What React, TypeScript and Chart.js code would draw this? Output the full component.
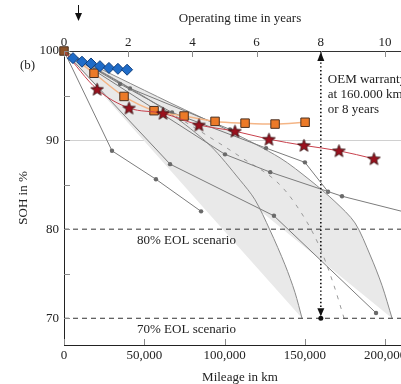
import React, { useEffect, useRef } from 'react';
import { Chart, registerables } from 'chart.js';

Chart.register(...registerables);

// ---------- data ----------
const KM_PER_YEAR = 20000;
const X_MAX = 219300;
const Y_MIN = 67;
const Y_MAX = 100;

const xTickValues = [0, 50000, 100000, 150000, 200000];
const yearTickValues = [0, 2, 4, 6, 8, 10];
const sohTickValues = [70, 75, 80, 85, 90, 95, 100];

const diamondKm = [5600, 11200, 16800, 22400, 28000, 33600, 39300];
const diamondSoh = [99.2, 98.8, 98.6, 98.3, 98.1, 98.0, 97.9];

const squareKm = [0, 18700, 37400, 56100, 74800, 94100, 112800, 131500, 150200];
const squareSoh = [100, 97.5, 94.9, 93.3, 92.7, 92.1, 91.9, 91.8, 92.0];

const starKm = [0, 20600, 40500, 61700, 84100, 106500, 127700, 149500, 171300, 193100];
const starSoh = [100, 95.7, 93.6, 93.0, 91.7, 91.0, 90.1, 89.4, 88.8, 87.9];

const gray1Km = [0, 29900, 57300, 85400];
const gray1Soh = [100, 88.8, 85.6, 82.0];
const gray2Km = [0, 66100, 130800, 194400];
const gray2Soh = [100, 87.3, 81.5, 70.6];
const gray3Km = [0, 100300, 128500, 173200, 215000];
const gray3Soh = [100, 88.4, 86.4, 83.7, 81.8];
const gray4Km = [0, 34900, 67300, 125900, 150100, 164500];
const gray4Soh = [100, 96.3, 93.1, 89.1, 87.5, 84.2];
const gray5Km = [0, 41100, 103400];
const gray5Soh = [100, 95.8, 91.2];

const bandUpperKm = [0, 66000, 103400, 134600, 153300, 168800, 181300, 190700, 198100, 204400];
const bandUpperSoh = [100, 94.2, 91.0, 88.0, 85.5, 83.1, 80.7, 77.1, 73.7, 70.0];
const bandLowerKm = [0, 34900, 66000, 91000, 109700, 119000, 128300, 137700, 143900, 148300];
const bandLowerSoh = [100, 96.5, 93.0, 89.4, 85.5, 83.3, 79.9, 76.0, 72.9, 70.0];

const trendKm = [0, 47400, 86600, 110900, 132700, 143900, 158300, 167600, 174500];
const trendSoh = [100, 95.1, 90.8, 88.0, 85.3, 82.9, 78.4, 74.0, 70.0];

const eolLevels = [80, 70];
const eolLabels = ['80% EOL scenario', '70% EOL scenario'];
const eolLabelKm = 45500;
const warrantyKm = 160000;
const markerArrowKm = 8700;
const warrantyText = ['OEM warranty', 'at 160.000 km', 'or 8 years'];

// ---------- helpers ----------
const pts = (xs: number[], ys: number[]) => xs.map((x, i) => ({ x, y: ys[i] }));
const setTicks = (vals: number[]) => (s: any) => {
  s.ticks = vals.map((v) => ({ value: v }));
};

function makeStar(): HTMLCanvasElement {
  const c = document.createElement('canvas');
  c.width = 15;
  c.height = 15;
  const g = c.getContext('2d')!;
  const cx = 7.5, cy = 8, R = 6.6, r = 2.8;
  g.beginPath();
  for (let i = 0; i < 10; i++) {
    const a = -Math.PI / 2 + (i * Math.PI) / 5;
    const rad = i % 2 === 0 ? R : r;
    const px = cx + rad * Math.cos(a);
    const py = cy + rad * Math.sin(a);
    if (i === 0) g.moveTo(px, py); else g.lineTo(px, py);
  }
  g.closePath();
  g.fillStyle = '#9b111e';
  g.fill();
  g.lineWidth = 0.8;
  g.strokeStyle = '#2a0606';
  g.stroke();
  return c;
}

const FONT = '"Liberation Serif", "Times New Roman", serif';

const annotPlugin = {
  id: 'annot',
  afterDatasetsDraw(chart: any) {
    const { ctx, chartArea: ca } = chart;
    const x = chart.scales.x;
    const x2 = chart.scales.x2;
    const y = chart.scales.y;
    ctx.save();
    // inward tick marks
    ctx.strokeStyle = '#8a8a8a';
    ctx.lineWidth = 1;
    ctx.beginPath();
    xTickValues.forEach((v) => {
      const px = Math.round(x.getPixelForValue(v)) + 0.5;
      ctx.moveTo(px, ca.bottom);
      ctx.lineTo(px, ca.bottom - 6);
    });
    yearTickValues.forEach((v) => {
      const px = Math.round(x2.getPixelForValue(v)) + 0.5;
      ctx.moveTo(px, ca.top);
      ctx.lineTo(px, ca.top + 6);
    });
    sohTickValues.forEach((v) => {
      const py = Math.round(y.getPixelForValue(v)) + 0.5;
      ctx.moveTo(ca.left, py);
      ctx.lineTo(ca.left + 6, py);
    });
    ctx.stroke();

    // texts
    ctx.fillStyle = '#222';
    ctx.font = `13px ${FONT}`;
    ctx.textBaseline = 'middle';
    ctx.textAlign = 'left';
    ctx.fillText('(b)', 20, 66);
    eolLevels.forEach((lv, i) => {
      ctx.fillText(eolLabels[i], x.getPixelForValue(eolLabelKm), y.getPixelForValue(lv) + 11);
    });
    const wx = x.getPixelForValue(warrantyKm);
    warrantyText.forEach((t, i) => {
      ctx.fillText(t, wx + 7, ca.top + 29 + i * 15);
    });

    // warranty arrowheads
    ctx.fillStyle = '#111';
    ctx.beginPath();
    ctx.moveTo(wx, ca.top + 1);
    ctx.lineTo(wx - 3.5, ca.top + 10);
    ctx.lineTo(wx + 3.5, ca.top + 10);
    ctx.closePath();
    ctx.fill();
    const y70 = y.getPixelForValue(70);
    ctx.beginPath();
    ctx.moveTo(wx - 3.5, y70 - 10);
    ctx.lineTo(wx + 3.5, y70 - 10);
    ctx.lineTo(wx, y70 - 2);
    ctx.closePath();
    ctx.fill();
    ctx.beginPath();
    ctx.arc(wx, y70, 2.5, 0, Math.PI * 2);
    ctx.fill();

    // marker arrow above the top axis
    const ax = Math.round(x.getPixelForValue(markerArrowKm)) + 0.5;
    ctx.strokeStyle = '#111';
    ctx.lineWidth = 1;
    ctx.beginPath();
    ctx.moveTo(ax, 5);
    ctx.lineTo(ax, 15);
    ctx.stroke();
    ctx.beginPath();
    ctx.moveTo(ax - 3.5, 13);
    ctx.lineTo(ax + 3.5, 13);
    ctx.lineTo(ax, 21);
    ctx.closePath();
    ctx.fill();
    ctx.restore();
  },
};

export default function App() {
  const ref = useRef<HTMLCanvasElement>(null);

  useEffect(() => {
    const star = makeStar();
    const grayLine = (xs: number[], ys: number[]) => ({
      type: 'line',
      data: pts(xs, ys),
      borderColor: '#7c7c7c',
      borderWidth: 1,
      backgroundColor: '#6a6a6a',
      pointBackgroundColor: '#6a6a6a',
      pointBorderWidth: 0,
      pointRadius: (c: any) => (c.dataIndex === 0 ? 0 : 2.2),
      tension: 0,
      fill: false,
      order: 8,
    });

    const upper = pts(bandUpperKm, bandUpperSoh);
    const lower = pts(bandLowerKm, bandLowerSoh);
    const uLast = upper[upper.length - 1];
    const lLast = lower[lower.length - 1];
    const bandPoly = [...upper, { ...uLast }, { ...lLast }, ...lower.slice().reverse()];
    const hiddenSeg = upper.length;

    const chart = new Chart(ref.current!, {
      type: 'line',
      data: {
        datasets: [
          {
            data: bandPoly,
            borderColor: '#8a8a8a',
            borderWidth: 1,
            backgroundColor: '#e9e9e9',
            fill: 'shape',
            tension: 0.3,
            pointRadius: 0,
            order: 20,
            segment: {
              borderColor: (c: any) => (c.p0DataIndex === hiddenSeg ? 'rgba(0,0,0,0)' : '#8a8a8a'),
            },
          },
          {
            data: pts(trendKm, trendSoh),
            borderColor: '#9a9a9a',
            borderWidth: 1,
            borderDash: [4, 6],
            pointRadius: 0,
            tension: 0.3,
            cubicInterpolationMode: 'monotone',
            fill: false,
            order: 9,
          },
          grayLine(gray1Km, gray1Soh),
          grayLine(gray2Km, gray2Soh),
          grayLine(gray3Km, gray3Soh),
          grayLine(gray4Km, gray4Soh),
          grayLine(gray5Km, gray5Soh),
          ...eolLevels.map((lv) => ({
            data: [{ x: 0, y: lv }, { x: X_MAX, y: lv }],
            borderColor: '#333',
            borderWidth: 1,
            borderDash: [5, 4],
            pointRadius: 0,
            fill: false,
            order: 7,
          })),
          {
            data: [{ x: warrantyKm, y: Y_MAX }, { x: warrantyKm, y: 70 }],
            borderColor: '#111',
            borderWidth: 1.6,
            borderDash: [1.4, 2.4],
            pointRadius: 0,
            fill: false,
            order: 6,
          },
          {
            data: pts(squareKm, squareSoh),
            borderColor: '#f4b586',
            borderWidth: 1.5,
            pointStyle: 'rect',
            pointRadius: 6,
            pointBackgroundColor: (c: any) => (c.dataIndex === 0 ? '#8c5227' : '#ec7a28'),
            pointBorderColor: '#4a3020',
            pointBorderWidth: 1,
            cubicInterpolationMode: 'monotone',
            fill: false,
            clip: false,
            order: 3,
          },
          {
            data: pts(starKm, starSoh),
            borderColor: '#c8404c',
            borderWidth: 1,
            pointStyle: star,
            pointRadius: (c: any) => (c.dataIndex === 0 ? 0 : 6),
            cubicInterpolationMode: 'monotone',
            fill: false,
            clip: false,
            order: 2,
          },
          {
            data: pts(diamondKm, diamondSoh),
            showLine: false,
            pointStyle: 'rectRot',
            pointRadius: 5.5,
            pointBackgroundColor: '#1f6cc8',
            pointBorderColor: '#0f3f7e',
            pointBorderWidth: 1,
            fill: false,
            clip: false,
            order: 1,
          },
        ] as any,
      },
      options: {
        responsive: false,
        animation: false,
        devicePixelRatio: 1,
        layout: { padding: { left: 0, top: 0, right: 20, bottom: 0 } },
        plugins: { legend: { display: false }, tooltip: { enabled: false } },
        scales: {
          x: {
            type: 'linear',
            position: 'bottom',
            min: 0,
            max: X_MAX,
            afterBuildTicks: setTicks(xTickValues),
            afterFit: (s: any) => { s.height = 39; },
            grid: { display: false, drawTicks: false },
            border: { display: true, color: '#222', width: 1 },
            ticks: {
              autoSkip: false,
              maxRotation: 0,
              padding: 3,
              color: '#222',
              font: { family: FONT, size: 13 },
            },
            title: {
              display: true,
              text: 'Mileage in km',
              color: '#222',
              font: { family: FONT, size: 13, lineHeight: 1 },
              padding: 0,
            },
          },
          x2: {
            type: 'linear',
            position: 'top',
            min: 0,
            max: X_MAX / KM_PER_YEAR,
            afterBuildTicks: setTicks(yearTickValues),
            afterFit: (s: any) => { s.height = 51; },
            grid: { display: false, drawTicks: false },
            border: { display: true, color: '#333', width: 1 },
            ticks: {
              autoSkip: false,
              maxRotation: 0,
              padding: 1,
              color: '#222',
              font: { family: FONT, size: 13 },
            },
            title: {
              display: true,
              text: 'Operating time in years',
              color: '#222',
              font: { family: FONT, size: 13 },
              padding: { top: 11, bottom: 0 },
            },
          },
          y: {
            type: 'linear',
            min: Y_MIN,
            max: Y_MAX,
            afterBuildTicks: setTicks(sohTickValues),
            afterFit: (s: any) => { s.width = 64; },
            grid: {
              color: (c: any) => (c.tick && c.tick.value === 90 ? '#d0d0d0' : 'rgba(0,0,0,0)'),
              drawTicks: false,
              lineWidth: 1,
            },
            border: { display: true, color: '#222', width: 1 },
            ticks: {
              autoSkip: false,
              padding: 5,
              color: '#222',
              font: { family: FONT, size: 13 },
              callback: (v: any) => (Number(v) % 10 === 0 ? String(v) : ''),
            },
            title: {
              display: true,
              text: 'SOH in %',
              color: '#222',
              font: { family: FONT, size: 13 },
              padding: { top: 16, bottom: 0 },
            },
          },
        },
      } as any,
      plugins: [annotPlugin],
    });
    return () => chart.destroy();
  }, []);

  return (
    <div
      style={{
        position: 'fixed',
        left: 0,
        top: 0,
        width: 401,
        height: 384,
        overflow: 'hidden',
        background: '#fff',
      }}
    >
      <canvas ref={ref} width={436} height={384} style={{ display: 'block', width: 436, height: 384 }} />
    </div>
  );
}
